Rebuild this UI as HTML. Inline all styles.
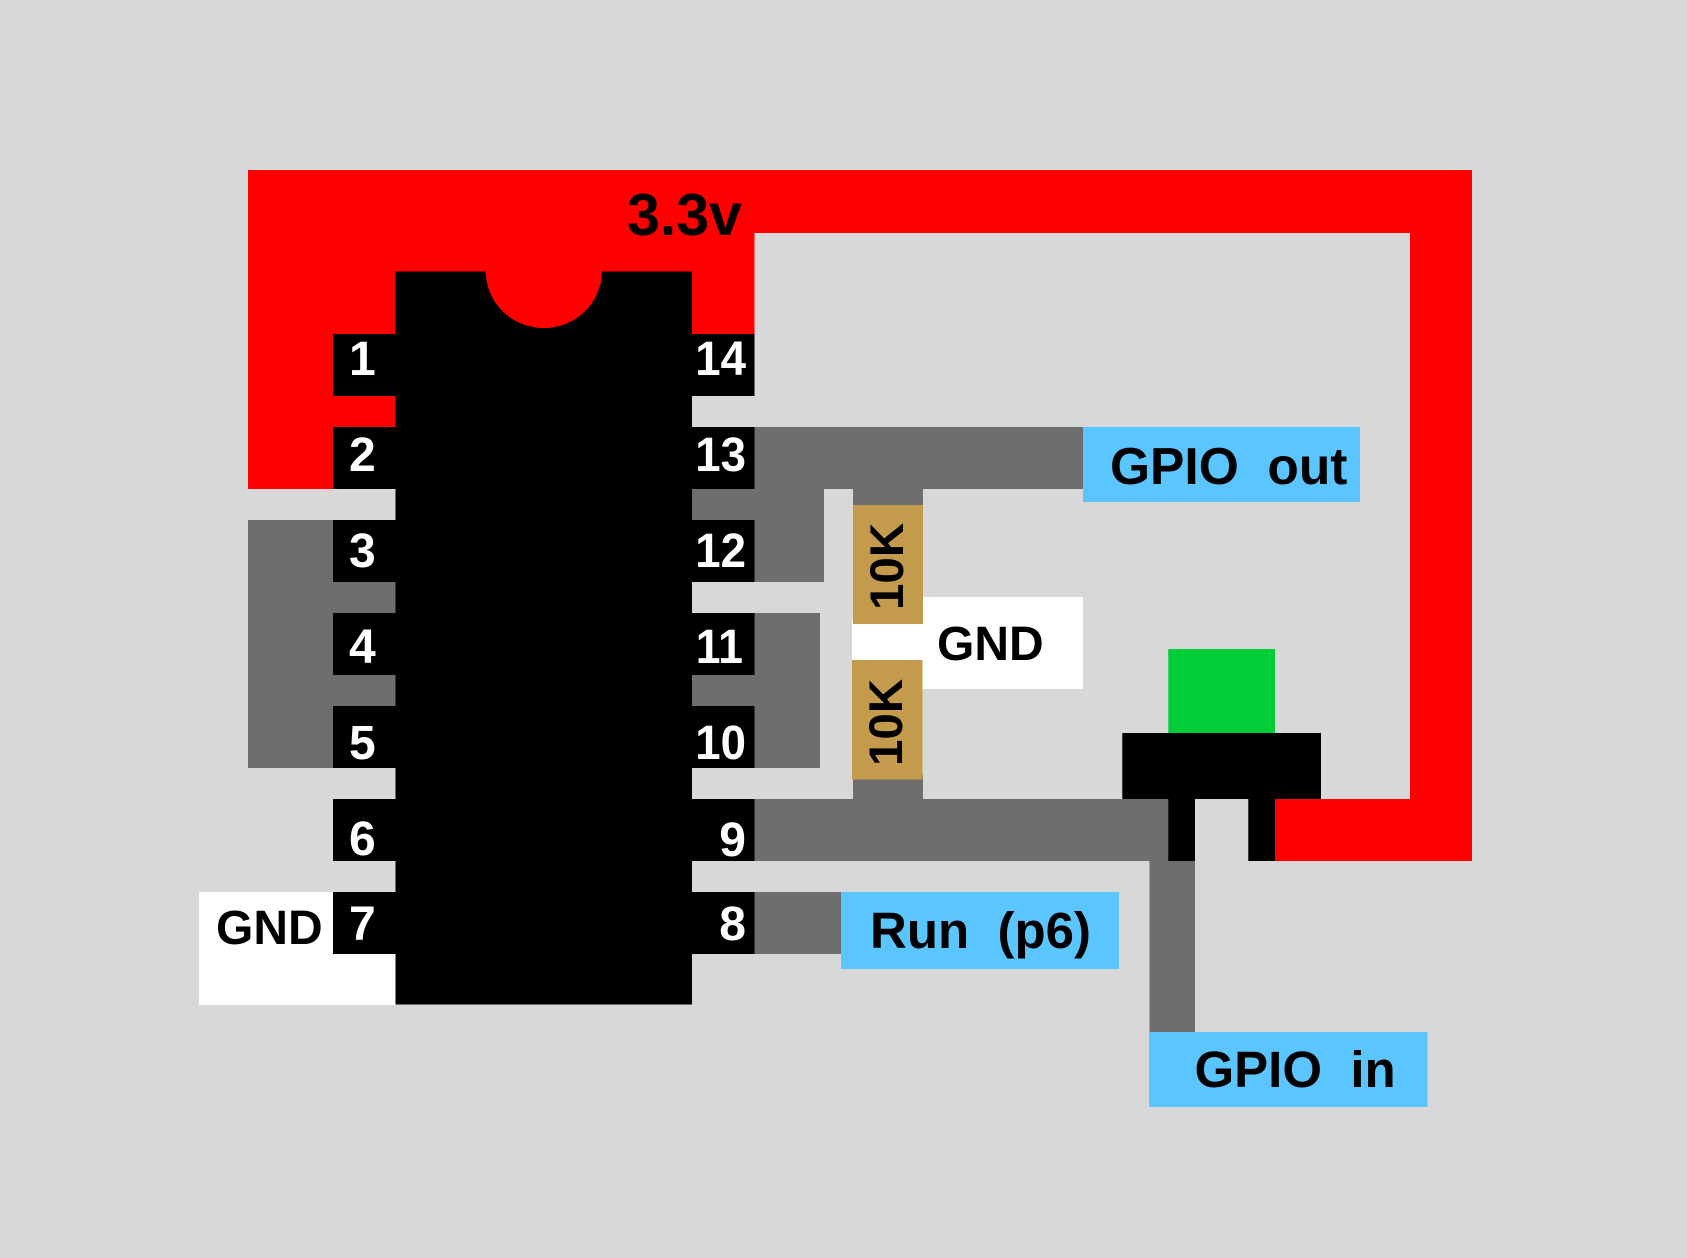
<!DOCTYPE html>
<html>
<head>
<meta charset="utf-8">
<style>
html,body{margin:0;padding:0;background:#d8d8d8;width:1687px;height:1258px;overflow:hidden}
svg{display:block}
text{font-family:"Liberation Sans",Arial,sans-serif;font-weight:bold;white-space:pre}
.p{font-size:48px;fill:#fff}
.l{font-size:48px;fill:#000}
</style>
</head>
<body>
<svg xmlns="http://www.w3.org/2000/svg" width="1687" height="1258" viewBox="0 0 1687 1258">
<rect width="1687" height="1258" fill="#d8d8d8"/>
<!-- red -->
<path d="M248 170H1472V861H1275V799H1410V233H754.5V340H692V271.5H395.5V427H333V489H248Z" fill="#ff0000"/>
<!-- grey left -->
<rect x="248" y="520" width="100" height="248" fill="#6e6e6e"/>
<rect x="333" y="582" width="63" height="31" fill="#6e6e6e"/>
<rect x="333" y="675" width="63" height="31" fill="#6e6e6e"/>
<!-- grey right -->
<rect x="750" y="427" width="333" height="62" fill="#6e6e6e"/>
<rect x="692" y="489" width="132" height="31" fill="#6e6e6e"/>
<rect x="750" y="489" width="74" height="93" fill="#6e6e6e"/>
<rect x="853" y="489" width="70" height="20" fill="#6e6e6e"/>
<rect x="750" y="613" width="70" height="155" fill="#6e6e6e"/>
<rect x="692" y="675" width="70" height="31" fill="#6e6e6e"/>
<rect x="853" y="775" width="70" height="30" fill="#6e6e6e"/>
<rect x="750" y="799" width="420" height="62" fill="#6e6e6e"/>
<rect x="1149.5" y="855" width="45.5" height="180" fill="#6e6e6e"/>
<rect x="750" y="892" width="92" height="62" fill="#6e6e6e"/>
<!-- white -->
<rect x="199" y="892" width="197" height="113" fill="#fff"/>
<rect x="852" y="620" width="72" height="44" fill="#fff"/>
<rect x="922.5" y="597" width="160.5" height="92" fill="#fff"/>
<!-- IC -->
<rect x="395.5" y="271.5" width="296.5" height="733" fill="#000"/>
<path d="M485.7 271A58 57 0 0 0 602 271Z" fill="#ff0000"/>
<g fill="#000">
<rect x="333" y="334" width="63" height="62"/>
<rect x="333" y="427" width="63" height="62"/>
<rect x="333" y="520" width="63" height="62"/>
<rect x="333" y="613" width="63" height="62"/>
<rect x="333" y="706" width="63" height="62"/>
<rect x="333" y="799" width="63" height="62"/>
<rect x="333" y="892" width="63" height="62"/>
<rect x="692" y="334" width="62.5" height="62"/>
<rect x="692" y="427" width="62.5" height="62"/>
<rect x="692" y="520" width="62.5" height="62"/>
<rect x="692" y="613" width="62.5" height="62"/>
<rect x="692" y="706" width="62.5" height="62"/>
<rect x="692" y="799" width="62.5" height="62"/>
<rect x="692" y="892" width="62.5" height="62"/>
</g>
<!-- resistors -->
<rect x="853" y="505" width="70" height="119" fill="#c49a4c"/>
<rect x="852" y="660" width="70.5" height="119.5" fill="#c49a4c"/>
<!-- blue labels -->
<rect x="1083" y="427" width="277" height="75" fill="#5ac5ff"/>
<rect x="841" y="892" width="278" height="77" fill="#5ac5ff"/>
<rect x="1149" y="1032" width="278.5" height="75" fill="#5ac5ff"/>
<!-- switch -->
<rect x="1168.3" y="649" width="106.7" height="84.3" fill="#00ce39"/>
<rect x="1122.3" y="733" width="198.7" height="66" fill="#000"/>
<rect x="1168.3" y="799" width="26.7" height="62" fill="#000"/>
<rect x="1248.3" y="799" width="26.7" height="62" fill="#000"/>
<!-- pin numbers -->
<g class="p">
<text class="p" x="349" y="375">1</text>
<text class="p" x="349" y="471">2</text>
<text class="p" x="349" y="567">3</text>
<text class="p" x="349" y="663">4</text>
<text class="p" x="349" y="759">5</text>
<text class="p" x="349" y="855">6</text>
<text class="p" x="349" y="940">7</text>
<text class="p" transform="translate(746 375) scale(.95 1)" text-anchor="end">14</text>
<text class="p" transform="translate(746 471) scale(.95 1)" text-anchor="end">13</text>
<text class="p" transform="translate(746 567) scale(.95 1)" text-anchor="end">12</text>
<text class="p" transform="translate(743 663) scale(.93 1)" text-anchor="end">11</text>
<text class="p" transform="translate(746 759) scale(.95 1)" text-anchor="end">10</text>
<text class="p" x="746" y="856" text-anchor="end">9</text>
<text class="p" x="746" y="940" text-anchor="end">8</text>
</g>
<!-- labels -->
<text class="l" x="627" y="235" style="font-size:59px">3.3v</text>
<text class="l" x="216" y="944" style="font-size:48px">GND</text>
<text class="l" x="937" y="660" style="font-size:48px">GND</text>
<text class="l" x="1110" y="484" style="font-size:51.5px">GPIO  out</text>
<text class="l" x="870" y="948" style="font-size:51px">Run  (p6)</text>
<text class="l" x="1194.5" y="1087" style="font-size:51px">GPIO  in</text>
<text class="l" transform="translate(903 610) rotate(-90)" style="font-size:47.5px">10K</text>
<text class="l" transform="translate(902 766) rotate(-90)" style="font-size:47.5px">10K</text>
</svg>
</body>
</html>
